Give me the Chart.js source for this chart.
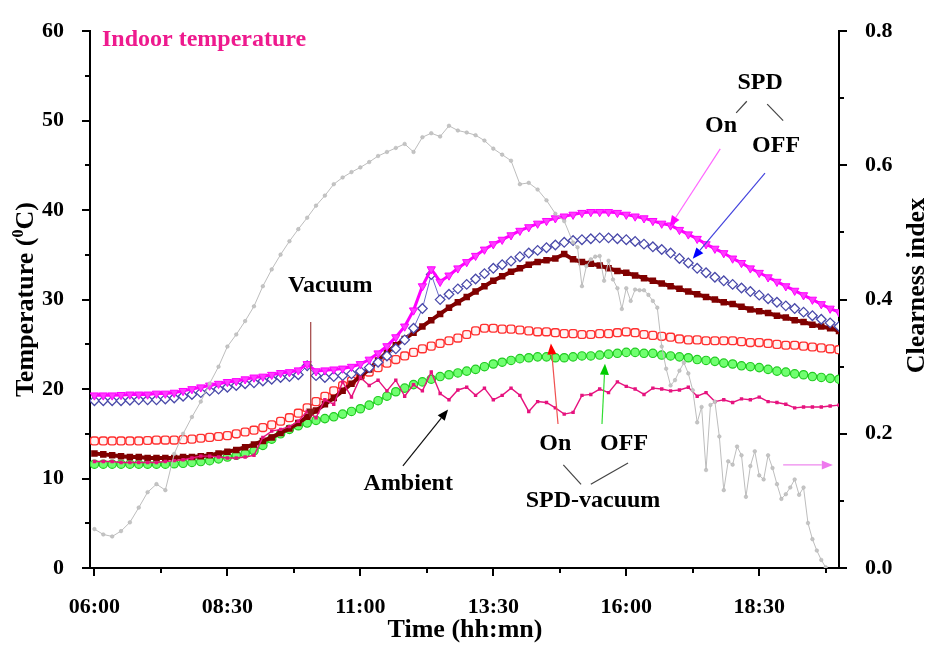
<!DOCTYPE html>
<html><head><meta charset="utf-8">
<script src="https://cdn.jsdelivr.net/npm/chart.js@4.4.1/dist/chart.umd.min.js"></script>
<style>html,body{margin:0;padding:0;background:#fff;}canvas{display:block;}</style>
</head><body>
<canvas id="c" width="926" height="646"></canvas>
<script>
// ---------- DATA ----------
const times10 = ["06:00","06:10","06:20","06:30","06:40","06:50","07:00","07:10","07:20","07:30",
"07:40","07:50","08:00","08:10","08:20","08:30","08:40","08:50","09:00","09:10",
"09:20","09:30","09:40","09:50","10:00","10:10","10:20","10:30","10:40","10:50",
"11:00","11:10","11:20","11:30","11:40","11:50","12:00","12:10","12:20","12:30",
"12:40","12:50","13:00","13:10","13:20","13:30","13:40","13:50","14:00","14:10",
"14:20","14:30","14:40","14:50","15:00","15:10","15:20","15:30","15:40","15:50",
"16:00","16:10","16:20","16:30","16:40","16:50","17:00","17:10","17:20","17:30",
"17:40","17:50","18:00","18:10","18:20","18:30","18:40","18:50","19:00","19:10",
"19:20","19:30","19:40","19:50","20:00"];

const spdOn = [19.3,19.3,19.3,19.35,19.4,19.4,19.4,19.5,19.5,19.6,
19.8,20.0,20.2,20.4,20.6,20.8,20.9,21.1,21.3,21.4,
21.6,21.8,21.9,22.1,22.8,22.0,22.1,22.2,22.3,22.5,
22.8,23.3,24.0,24.8,25.8,27.0,28.8,31.5,33.4,32.0,
32.7,33.5,34.2,34.9,35.6,36.2,36.7,37.2,37.7,38.1,
38.5,38.8,39.1,39.3,39.5,39.7,39.8,39.8,39.8,39.7,
39.5,39.3,39.1,38.8,38.5,38.3,37.8,37.3,36.8,36.2,
35.7,35.2,34.6,34.1,33.5,33.0,32.5,32.0,31.5,31.0,
30.5,30.0,29.5,29.0,28.6];

const spdOff = [18.7,18.7,18.7,18.7,18.75,18.8,18.8,18.8,18.9,19.0,
19.2,19.4,19.6,19.8,20.0,20.2,20.4,20.6,20.7,20.9,
21.1,21.3,21.4,21.6,22.6,21.5,21.3,21.4,21.5,21.7,
22.0,22.4,23.0,23.7,24.5,25.5,26.8,29.0,32.8,30.0,
30.6,31.2,31.7,32.3,32.9,33.5,33.9,34.3,34.8,35.2,
35.5,35.8,36.1,36.4,36.6,36.7,36.8,36.9,36.9,36.8,
36.7,36.5,36.2,35.9,35.6,35.2,34.6,34.1,33.5,33.0,
32.5,32.1,31.7,31.3,30.9,30.5,30.1,29.7,29.3,29.0,
28.6,28.2,27.8,27.4,27.0];

const vacuum = [12.8,12.7,12.6,12.5,12.4,12.4,12.3,12.3,12.3,12.3,
12.4,12.4,12.5,12.6,12.8,13.0,13.2,13.5,13.8,14.2,
14.6,15.1,15.6,16.2,16.9,17.6,18.3,19.0,19.8,20.6,
21.4,22.2,23.2,24.1,24.9,25.6,26.3,27.0,27.7,28.4,
29.1,29.7,30.3,30.9,31.5,32.1,32.6,33.1,33.5,33.9,
34.2,34.4,34.6,35.1,34.5,34.2,34.0,33.8,33.5,33.2,
33.0,32.7,32.4,32.1,31.8,31.5,31.2,30.9,30.6,30.3,
30.0,29.7,29.5,29.2,28.9,28.7,28.5,28.2,28.0,27.7,
27.5,27.2,27.0,26.8,26.5];

const spdVacOn = [14.2,14.2,14.2,14.2,14.2,14.2,14.25,14.3,14.3,14.3,
14.35,14.4,14.5,14.6,14.7,14.8,15.0,15.2,15.4,15.7,
16.0,16.4,16.8,17.3,17.9,18.6,19.2,19.8,20.4,20.9,
21.5,21.9,22.4,22.9,23.3,23.7,24.1,24.5,24.8,25.1,
25.4,25.7,26.1,26.5,26.8,26.8,26.7,26.7,26.6,26.5,
26.4,26.4,26.3,26.2,26.2,26.1,26.1,26.2,26.2,26.3,
26.4,26.3,26.1,26.0,25.9,25.8,25.6,25.5,25.5,25.4,
25.4,25.4,25.4,25.3,25.2,25.2,25.1,25.0,24.9,24.9,
24.8,24.7,24.6,24.5,24.4];

const spdVacOff = [11.6,11.6,11.6,11.6,11.6,11.6,11.6,11.6,11.6,11.65,
11.7,11.8,11.9,12.0,12.2,12.4,12.6,12.8,13.1,13.7,
14.4,15.0,15.5,15.9,16.2,16.5,16.7,16.9,17.2,17.5,
17.8,18.2,18.7,19.2,19.7,20.1,20.5,20.8,21.1,21.4,
21.6,21.8,22.0,22.2,22.5,22.8,23.0,23.2,23.4,23.5,
23.6,23.6,23.5,23.5,23.6,23.7,23.7,23.8,23.9,24.0,
24.1,24.1,24.0,24.0,23.8,23.7,23.6,23.5,23.3,23.2,
23.1,22.9,22.8,22.6,22.5,22.4,22.2,22.0,21.9,21.7,
21.6,21.4,21.3,21.2,21.1];

const ambient = [11.9,11.9,11.9,11.8,11.8,11.8,11.8,11.8,11.9,12.0,
12.1,12.3,12.5,12.5,12.4,12.3,12.3,12.4,12.6,14.6,
15.3,15.5,15.8,16.4,17.5,16.8,18.8,18.3,20.8,19.1,
21.3,20.4,21.0,19.8,21.0,19.2,20.5,19.8,21.9,19.5,
18.8,19.9,20.2,19.3,20.1,18.8,19.3,20.1,19.3,17.5,
18.6,18.5,17.9,17.2,17.4,19.3,19.4,20.0,19.6,20.8,
20.3,20.0,19.4,20.1,20.0,19.8,19.9,20.2,19.2,19.6,
18.6,18.8,18.5,18.9,18.8,19.1,18.6,18.5,18.3,17.9,
18.0,18.0,18.0,18.1,18.2];

const clearTimes = ["06:00","06:10","06:20","06:30","06:40","06:50","07:00","07:10","07:20","07:30",
"07:40","07:50","08:00","08:10","08:20","08:30","08:40","08:50","09:00","09:10",
"09:20","09:30","09:40","09:50","10:00","10:10","10:20","10:30","10:40","10:50",
"11:00","11:10","11:20","11:30","11:40","11:50","12:00","12:10","12:20","12:30",
"12:40","12:50","13:00","13:10","13:20","13:30","13:40","13:50","14:00","14:10",
"14:20","14:30","14:40","14:50",
"15:00","15:05","15:10","15:15","15:20","15:25","15:30","15:35","15:40","15:45",
"15:50","15:55","16:00","16:05","16:10","16:15","16:20","16:25","16:30","16:35",
"16:40","16:45","16:50","16:55","17:00","17:05","17:10","17:15","17:20","17:25",
"17:30","17:35","17:40","17:45","17:50","17:55","18:00","18:05","18:10","18:15",
"18:20","18:25","18:30","18:35","18:40","18:45","18:50","18:55","19:00","19:05",
"19:10","19:15","19:20","19:25","19:30","19:35","19:40","19:45"];

const clearness = [0.058,0.050,0.047,0.055,0.068,0.090,0.113,0.125,0.116,0.170,
0.200,0.225,0.248,0.275,0.300,0.330,0.348,0.368,0.390,0.420,
0.445,0.467,0.487,0.505,0.522,0.540,0.555,0.572,0.582,0.590,
0.597,0.605,0.614,0.620,0.626,0.632,0.620,0.642,0.648,0.643,
0.659,0.652,0.649,0.645,0.637,0.625,0.616,0.607,0.572,0.574,
0.564,0.548,0.528,0.517,
0.485,0.478,0.420,0.450,0.460,0.464,0.465,0.428,0.458,0.430,
0.417,0.386,0.417,0.398,0.415,0.414,0.414,0.407,0.398,0.388,
0.330,0.297,0.272,0.280,0.294,0.306,0.290,0.265,0.217,0.240,
0.146,0.243,0.248,0.196,0.116,0.159,0.154,0.181,0.168,0.106,
0.152,0.174,0.138,0.132,0.168,0.149,0.125,0.103,0.110,0.120,
0.132,0.109,0.120,0.067,0.043,0.026,0.012,0.001];

const xTickLabels = ["06:00","08:30","11:00","13:30","16:00","18:30"];
const xMinorLabels = ["07:15","09:45","12:15","14:45","17:15","19:45"];
const yTicks = [0,10,20,30,40,50,60];
const y2Ticks = [0.0,0.2,0.4,0.6,0.8];

// ---------- helpers ----------
const SERIF = '"Liberation Serif", "Times New Roman", serif';
const toMin = s => { const p = s.split(':'); return (+p[0]) * 60 + (+p[1]); };
const fmtTime = m => String(Math.floor(m / 60)).padStart(2, '0') + ':' + String(m % 60).padStart(2, '0');
const pts = (ts, vs) => vs.map((v, i) => ({ x: toMin(ts[i]), y: v }));

// annotation definitions in data units (time minutes, temperature)
const notes = [
  { text: 'Indoor temperature', t: 368.5, v: 58.4, align: 'left', color: '#ee1a8e' },
  { text: 'SPD', t: 1111, v: 53.5 },
  { text: 'On', t: 1067, v: 48.7 },
  { text: 'OFF', t: 1129, v: 46.5 },
  { text: 'Vacuum', t: 626, v: 30.8 },
  { text: 'Ambient', t: 714, v: 8.7 },
  { text: 'On', t: 880, v: 13.15 },
  { text: 'OFF', t: 957.5, v: 13.15 },
  { text: 'SPD-vacuum', t: 922.5, v: 6.85 }
];
const connectors = [
  [1096, 52.17, 1084, 50.87], [1119, 51.85, 1137, 50.0],
  [889, 11.52, 909, 9.35], [962, 11.74, 920, 9.35]
];
const arrows = [
  { a: [1066, 46.85, 1009, 38.15], line: '#ff66ff', head: '#ff00ff' },
  { a: [1116.5, 44.13, 1035, 34.57], line: '#4444dd', head: '#0000ff' },
  { a: [604, 27.5, 604, 16.6], line: '#a04040', head: '#8b1a1a' },
  { a: [708, 11.41, 759, 17.72], line: '#111111', head: '#000000' },
  { a: [883, 16.09, 875, 25.1], line: '#f05050', head: '#ff0000' },
  { a: [932.6, 16.09, 936, 22.83], line: '#33dd33', head: '#00cc00' },
  { a: [1137, 11.52, 1193, 11.52], line: '#ee88ee', head: '#ee77ee' }
];

function arrow(ctx, x1, y1, x2, y2, lc, hc) {
  const ang = Math.atan2(y2 - y1, x2 - x1), L = 11, W = 4.5;
  const bx = x2 - L * Math.cos(ang), by = y2 - L * Math.sin(ang);
  ctx.strokeStyle = lc; ctx.lineWidth = 1.2;
  ctx.beginPath(); ctx.moveTo(x1, y1); ctx.lineTo(bx, by); ctx.stroke();
  ctx.fillStyle = hc;
  ctx.beginPath();
  ctx.moveTo(x2, y2);
  ctx.lineTo(bx + W * Math.sin(ang), by - W * Math.cos(ang));
  ctx.lineTo(bx - W * Math.sin(ang), by + W * Math.cos(ang));
  ctx.closePath(); ctx.fill();
}

const decorPlugin = {
  id: 'decor',
  afterDraw(chart) {
    const ctx = chart.ctx, xs = chart.scales.x, ys = chart.scales.y, y2s = chart.scales.y2;
    const ca = chart.chartArea;
    ctx.save();
    ctx.strokeStyle = '#000'; ctx.lineWidth = 2;
    for (let v = 0; v <= 60; v += 5) {
      const y = Math.round(ys.getPixelForValue(v));
      const len = v % 10 === 0 ? 8 : 5;
      ctx.beginPath(); ctx.moveTo(ca.left, y); ctx.lineTo(ca.left - len, y); ctx.stroke();
    }
    for (let k = 0; k <= 8; k++) {
      const y = Math.round(y2s.getPixelForValue(k / 10));
      const len = k % 2 === 0 ? 8 : 5;
      ctx.beginPath(); ctx.moveTo(ca.right, y); ctx.lineTo(ca.right + len, y); ctx.stroke();
    }
    xTickLabels.forEach(s => {
      const x = Math.round(xs.getPixelForValue(toMin(s)));
      ctx.beginPath(); ctx.moveTo(x, ca.bottom); ctx.lineTo(x, ca.bottom + 8); ctx.stroke();
    });
    xMinorLabels.forEach(s => {
      const x = Math.round(xs.getPixelForValue(toMin(s)));
      ctx.beginPath(); ctx.moveTo(x, ca.bottom); ctx.lineTo(x, ca.bottom + 5); ctx.stroke();
    });

    ctx.strokeStyle = '#444'; ctx.lineWidth = 1.2;
    connectors.forEach(c => {
      ctx.beginPath();
      ctx.moveTo(xs.getPixelForValue(c[0]), ys.getPixelForValue(c[1]));
      ctx.lineTo(xs.getPixelForValue(c[2]), ys.getPixelForValue(c[3]));
      ctx.stroke();
    });
    arrows.forEach(a => arrow(ctx,
      xs.getPixelForValue(a.a[0]), ys.getPixelForValue(a.a[1]),
      xs.getPixelForValue(a.a[2]), ys.getPixelForValue(a.a[3]), a.line, a.head));

    ctx.font = 'bold 24px ' + SERIF;
    ctx.textBaseline = 'alphabetic';
    notes.forEach(n => {
      ctx.fillStyle = n.color || '#000';
      ctx.textAlign = n.align || 'center';
      ctx.fillText(n.text, xs.getPixelForValue(n.t), ys.getPixelForValue(n.v));
    });

    ctx.fillStyle = '#000';
    ctx.font = 'bold 26px ' + SERIF;
    ctx.textAlign = 'center';
    ctx.fillText('Time (hh:mn)', (ca.left + ca.right) / 2 + 0.5, 637);

    const cy = (ca.top + ca.bottom) / 2;
    ctx.save();
    ctx.translate(33, cy);
    ctx.rotate(-Math.PI / 2);
    const f1 = 'bold 26px ' + SERIF, f2 = 'bold 16px ' + SERIF;
    ctx.font = f1; const w1 = ctx.measureText('Temperature (').width, w3 = ctx.measureText('C)').width;
    ctx.font = f2; const w2 = ctx.measureText('0').width;
    const x0 = -(w1 + w2 + w3) / 2;
    ctx.textAlign = 'left';
    ctx.font = f1; ctx.fillText('Temperature (', x0, 0);
    ctx.font = f2; ctx.fillText('0', x0 + w1, -10);
    ctx.font = f1; ctx.fillText('C)', x0 + w1 + w2, 0);
    ctx.restore();

    ctx.save();
    ctx.translate(924, cy - 14);
    ctx.rotate(-Math.PI / 2);
    ctx.font = 'bold 26px ' + SERIF; ctx.textAlign = 'center';
    ctx.fillText('Clearness index', 0, 0);
    ctx.restore();
    ctx.restore();
  }
};

const tickFont = { family: SERIF, size: 22, weight: 'bold' };

new Chart(document.getElementById('c'), {
  type: 'line',
  data: {
    datasets: [
      { label: 'Clearness index', data: pts(clearTimes, clearness), yAxisID: 'y2', order: 0,
        borderColor: '#bdbdbd', borderWidth: 1, pointStyle: 'circle', pointRadius: 1.8,
        pointBackgroundColor: '#c4c4c4', pointBorderColor: '#b0b0b0', pointBorderWidth: 0.5 },
      { label: 'Ambient', data: pts(times10, ambient), yAxisID: 'y', order: 1,
        borderColor: '#e6127e', borderWidth: 1.4, pointStyle: 'rect', pointRadius: 2.4,
        pointBackgroundColor: '#e6127e', pointBorderColor: '#e6127e', pointBorderWidth: 0 },
      { label: 'SPD On', data: pts(times10, spdOn), yAxisID: 'y', order: 2,
        borderColor: '#ff00ff', borderWidth: 3, pointStyle: 'triangle', rotation: 180, pointRadius: 4.8,
        pointBackgroundColor: '#ff3cff', pointBorderColor: '#ff00ff', pointBorderWidth: 1 },
      { label: 'SPD OFF', data: pts(times10, spdOff), yAxisID: 'y', order: 3,
        borderColor: '#6a6ac8', borderWidth: 1, pointStyle: 'rectRot', pointRadius: 4.8,
        pointBackgroundColor: '#ffffff', pointBorderColor: '#4a4aaa', pointBorderWidth: 1.3 },
      { label: 'Vacuum', data: pts(times10, vacuum), yAxisID: 'y', order: 4,
        borderColor: '#800000', borderWidth: 4, pointStyle: 'rect', pointRadius: 4.6,
        pointBackgroundColor: '#800000', pointBorderColor: '#800000', pointBorderWidth: 0 },
      { label: 'SPD-vacuum On', data: pts(times10, spdVacOn), yAxisID: 'y', order: 5,
        borderColor: '#ff3030', borderWidth: 1.5, pointStyle: 'rectRounded', pointRadius: 4.6,
        pointBackgroundColor: '#fff4f4', pointBorderColor: '#ff3030', pointBorderWidth: 1.3 },
      { label: 'SPD-vacuum OFF', data: pts(times10, spdVacOff), yAxisID: 'y', order: 6,
        borderColor: '#33e033', borderWidth: 2.5, pointStyle: 'circle', pointRadius: 4.2,
        pointBackgroundColor: '#70ff70', pointBorderColor: '#22cc22', pointBorderWidth: 1.2 }
    ]
  },
  options: {
    responsive: false, animation: false, devicePixelRatio: 1,
    layout: { padding: { top: 16, left: 0, right: 0, bottom: 0 } },
    plugins: { legend: { display: false }, tooltip: { enabled: false } },
    elements: { line: { tension: 0 } },
    scales: {
      x: {
        type: 'linear', min: 355, max: 1200,
        afterBuildTicks: s => { s.ticks = xTickLabels.map(t => ({ value: toMin(t) })); },
        afterFit: s => { s.height = 78; },
        ticks: { callback: v => fmtTime(v), font: tickFont, color: '#000', padding: 18, maxRotation: 0, autoSkip: false },
        grid: { display: false },
        border: { display: true, color: '#000', width: 2 }
      },
      y: {
        position: 'left', min: 0, max: 60,
        afterBuildTicks: s => { s.ticks = yTicks.map(v => ({ value: v })); },
        afterFit: s => { s.width = 90; },
        ticks: { font: tickFont, color: '#000', padding: 18 },
        grid: { display: false },
        border: { display: true, color: '#000', width: 2 }
      },
      y2: {
        position: 'right', min: 0, max: 0.8,
        afterBuildTicks: s => { s.ticks = y2Ticks.map(v => ({ value: v })); },
        afterFit: s => { s.width = 87; },
        ticks: { callback: v => v.toFixed(1), font: tickFont, color: '#000', padding: 18 },
        grid: { display: false },
        border: { display: true, color: '#000', width: 2 }
      }
    }
  },
  plugins: [decorPlugin]
});
</script>
</body></html>
